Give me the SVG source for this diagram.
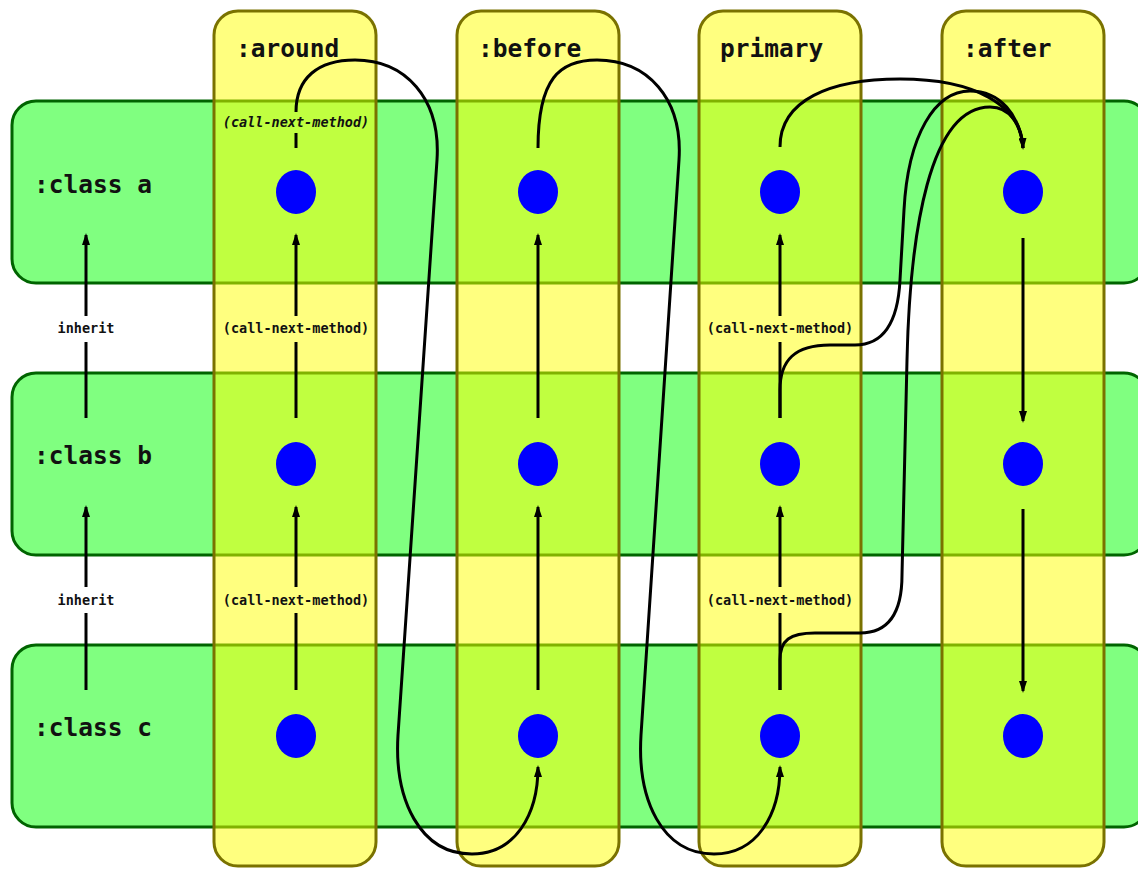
<svg xmlns="http://www.w3.org/2000/svg" width="1138" height="869" viewBox="0 0 1138 869">
<style>
.row{fill:#80ff80;stroke:#006400;stroke-width:3}
.col{fill:#ffff00;fill-opacity:0.5;stroke:#7a7200;stroke-width:3}
.dot{fill:#0000ff}
.head{font-family:"DejaVu Sans Mono","Liberation Mono",monospace;font-weight:bold;font-size:24.5px;fill:#111}
.lbl{font-family:"DejaVu Sans Mono","Liberation Mono",monospace;font-weight:bold;font-size:13.5px;fill:#111;text-anchor:middle}
.it{font-style:italic}
.ln{fill:none;stroke:#000;stroke-width:3}
.ar{marker-end:url(#ah)}
</style>
<defs>
<marker id="ah" viewBox="0 0 12 8" refX="10" refY="4" markerWidth="12" markerHeight="8" markerUnits="userSpaceOnUse" orient="auto">
<path d="M0,0 L12,4 L0,8 z" fill="#000"/>
</marker>
</defs>
<rect width="1138" height="869" fill="#fff"/>
<g id="class-a"><rect class="row" x="12" y="101" width="1136" height="182" rx="24"/><text class="head" x="34" y="193">:class a</text></g>
<g id="class-b"><rect class="row" x="12" y="373" width="1136" height="182" rx="24"/><text class="head" x="34" y="464">:class b</text></g>
<g id="class-c"><rect class="row" x="12" y="645" width="1136" height="182" rx="24"/><text class="head" x="34" y="736">:class c</text></g>
<g id="col-around"><rect class="col" x="214" y="11" width="162" height="855" rx="24"/></g>
<g id="col-before"><rect class="col" x="457" y="11" width="162" height="855" rx="24"/></g>
<g id="col-primary"><rect class="col" x="699" y="11" width="162" height="855" rx="24"/></g>
<g id="col-after"><rect class="col" x="942" y="11" width="162" height="855" rx="24"/></g>
<g id="titles">
<text class="head" x="236" y="57">:around</text>
<text class="head" x="478" y="57">:before</text>
<text class="head" x="720" y="57">primary</text>
<text class="head" x="963" y="57">:after</text>
</g>
<g id="dots">
<ellipse id="around-a" class="dot" cx="296" cy="192" rx="20" ry="22"/>
<ellipse id="around-b" class="dot" cx="296" cy="464" rx="20" ry="22"/>
<ellipse id="around-c" class="dot" cx="296" cy="736" rx="20" ry="22"/>
<ellipse id="before-a" class="dot" cx="538" cy="192" rx="20" ry="22"/>
<ellipse id="before-b" class="dot" cx="538" cy="464" rx="20" ry="22"/>
<ellipse id="before-c" class="dot" cx="538" cy="736" rx="20" ry="22"/>
<ellipse id="primary-a" class="dot" cx="780" cy="192" rx="20" ry="22"/>
<ellipse id="primary-b" class="dot" cx="780" cy="464" rx="20" ry="22"/>
<ellipse id="primary-c" class="dot" cx="780" cy="736" rx="20" ry="22"/>
<ellipse id="after-a" class="dot" cx="1023" cy="192" rx="20" ry="22"/>
<ellipse id="after-b" class="dot" cx="1023" cy="464" rx="20" ry="22"/>
<ellipse id="after-c" class="dot" cx="1023" cy="736" rx="20" ry="22"/>
</g>
<g id="connectors">
<path class="ln ar" d="M86,316 L86,235"/>
<path class="ln" d="M86,342 L86,418"/>
<path class="ln ar" d="M86,587 L86,507"/>
<path class="ln" d="M86,613 L86,690"/>
<path class="ln ar" d="M296,316 L296,235"/>
<path class="ln" d="M296,342 L296,418"/>
<path class="ln ar" d="M296,587 L296,507"/>
<path class="ln" d="M296,613 L296,690"/>
<path class="ln" d="M296,148 L296,133"/>
<path class="ln ar" d="M538,418 L538,235"/>
<path class="ln ar" d="M538,690 L538,507"/>
<path class="ln ar" d="M780,316 L780,235"/>
<path class="ln" d="M780,342 L780,418"/>
<path class="ln ar" d="M780,587 L780,507"/>
<path class="ln" d="M780,613 L780,690"/>
<path class="ln ar" d="M1023,238 L1023,421"/>
<path class="ln ar" d="M1023,509 L1023,691"/>
<path class="ln ar" d="M296,112 C296,78 318,60 355,60 C405,60 441,98 437,160 L398,735 C394,800 420,854 472,854 C515,854 538,815 538,767"/>
<path class="ln ar" d="M538,148 C538,78 560,60 597,60 C647,60 683,98 679,160 L641,735 C637,800 662,854 714,854 C757,854 780,815 780,767"/>
<path class="ln ar" d="M780,147 C780,100 830,79 900,79 C975,79 1021,105 1023,148"/>
<path class="ln" d="M780,418 L780,390 C780,360 795,345 830,345 L855,345 C885,345 898,320 900,280 L904,210 C908,135 935,91 970,91 C1000,91 1020,115 1023,148"/>
<path class="ln" d="M780,690 L780,660 C780,640 790,633 815,633 L860,633 C890,633 902,610 902,575 L907,360 C910,230 930,107 990,107 C1010,107 1022,125 1023,148"/>
</g>
<g id="labels">
<text class="lbl" x="86" y="333">inherit</text>
<text class="lbl" x="86" y="605">inherit</text>
<text class="lbl" x="296" y="333">(call-next-method)</text>
<text class="lbl" x="296" y="605">(call-next-method)</text>
<text class="lbl" x="780" y="333">(call-next-method)</text>
<text class="lbl" x="780" y="605">(call-next-method)</text>
<text class="lbl it" x="296" y="127">(call-next-method)</text>
</g>
</svg>
